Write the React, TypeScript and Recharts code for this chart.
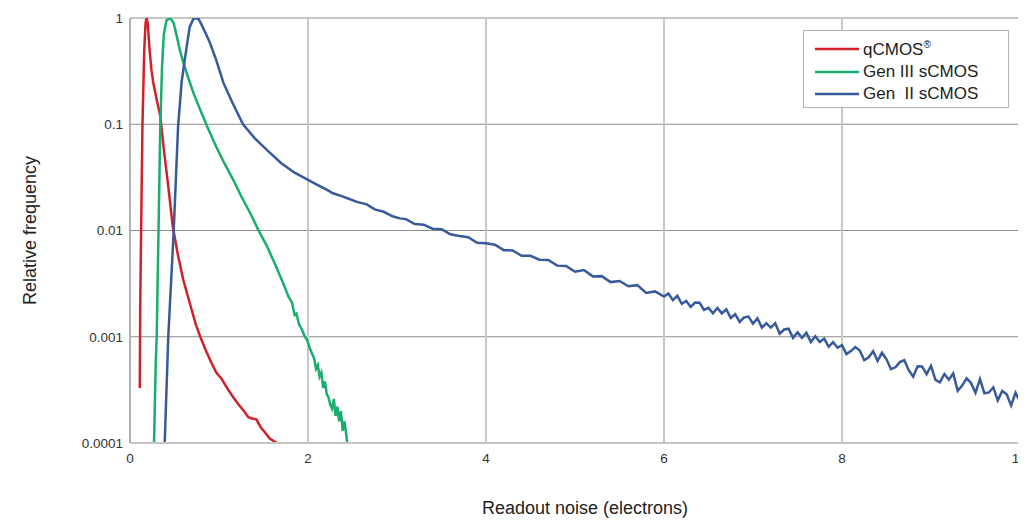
import React from "react";
import { LineChart, Line, XAxis, YAxis, CartesianGrid } from "recharts";

// [readout noise (e-), relative frequency]
const qcmos: [number, number][] = [
  [0.11, 0.00033], [0.115, 0.002], [0.125, 0.01], [0.14, 0.1], [0.16, 0.5],
  [0.175, 0.9], [0.187, 1.0], [0.2, 0.88], [0.22, 0.5], [0.24, 0.33],
  [0.26, 0.25], [0.3, 0.17], [0.34, 0.12], [0.38, 0.058], [0.43, 0.026],
  [0.48, 0.011], [0.54, 0.0058], [0.6, 0.0034], [0.67, 0.0021], [0.74, 0.0013],
  [0.79, 0.001], [0.85, 0.00075], [0.91, 0.00058], [0.97, 0.00046],
  [1.03, 0.0004], [1.09, 0.00033], [1.16, 0.00027], [1.22, 0.00023],
  [1.28, 0.0002], [1.33, 0.000175], [1.37, 0.00017], [1.42, 0.000167],
  [1.47, 0.00014], [1.52, 0.000125], [1.57, 0.00011], [1.65, 0.0001],
];

const gen3: [number, number][] = [
  [0.27, 0.0001], [0.29, 0.0006], [0.3, 0.001], [0.32, 0.0095], [0.34, 0.094],
  [0.36, 0.35], [0.38, 0.7], [0.41, 0.95], [0.45, 1.0], [0.49, 0.9],
  [0.53, 0.65], [0.56, 0.5], [0.6, 0.38], [0.65, 0.28], [0.72, 0.19],
  [0.79, 0.136], [0.88, 0.09], [0.97, 0.061], [1.06, 0.043], [1.16, 0.03],
  [1.25, 0.021], [1.35, 0.0146], [1.44, 0.0102], [1.54, 0.0071],
  [1.63, 0.0048], [1.72, 0.0032], [1.78, 0.0024], [1.82, 0.0021],
  [1.85, 0.0016], [1.87, 0.00165], [1.9, 0.0013], [1.93, 0.00118],
  [1.96, 0.00102], [1.99, 0.00093], [2.02, 0.00078], [2.05, 0.00068],
  [2.07, 0.00062], [2.09, 0.0005], [2.11, 0.00054], [2.13, 0.00042],
  [2.15, 0.00046], [2.17, 0.00033], [2.19, 0.00038], [2.21, 0.00029],
  [2.23, 0.00027], [2.25, 0.00023], [2.27, 0.00021], [2.29, 0.00026],
  [2.31, 0.00018], [2.33, 0.00022], [2.35, 0.00016], [2.37, 0.0002],
  [2.39, 0.00013], [2.41, 0.00016], [2.43, 0.00012], [2.44, 0.0001],
];

const gen2: [number, number][] = [
  [0.39, 0.0001], [0.43, 0.001], [0.49, 0.0095], [0.54, 0.094], [0.58, 0.25],
  [0.62, 0.43], [0.67, 0.82], [0.71, 0.97], [0.73, 1.0], [0.77, 0.98],
  [0.8, 0.88], [0.85, 0.72], [0.9, 0.58], [0.97, 0.4], [1.05, 0.245],
  [1.15, 0.16], [1.27, 0.1], [1.4, 0.074], [1.54, 0.057], [1.7, 0.043],
  [1.85, 0.035], [2.0, 0.03], [2.1, 0.027], [2.2, 0.0245], [2.28, 0.0224],
  [2.37, 0.0212], [2.45, 0.02], [2.55, 0.0186], [2.66, 0.0176],
  [2.75, 0.0158], [2.85, 0.015], [2.95, 0.0136], [3.03, 0.013],
  [3.1, 0.0128], [3.2, 0.0115], [3.3, 0.01135], [3.4, 0.0104], [3.5, 0.0103],
  [3.6, 0.0092], [3.7, 0.00889], [3.8, 0.00865], [3.9, 0.00767], [4.0, 0.0076],
  [4.1, 0.00736], [4.2, 0.00653], [4.3, 0.0065], [4.4, 0.00579], [4.5, 0.00578],
  [4.6, 0.00531], [4.7, 0.00528], [4.8, 0.00467], [4.9, 0.00463], [5.0, 0.00409],
  [5.1, 0.00425], [5.2, 0.0037], [5.3, 0.00372], [5.4, 0.00327], [5.5, 0.00335],
  [5.6, 0.00299], [5.7, 0.00306], [5.8, 0.00258], [5.9, 0.00267], [6.0, 0.00239],
  [6.05, 0.00255], [6.1, 0.00221], [6.15, 0.00243], [6.2, 0.00204],
  [6.25, 0.00217], [6.3, 0.00191], [6.35, 0.0021], [6.4, 0.00209],
  [6.45, 0.00179], [6.5, 0.00187], [6.55, 0.00166], [6.6, 0.00187],
  [6.65, 0.00166], [6.7, 0.00181], [6.75, 0.0015], [6.8, 0.00163],
  [6.85, 0.00138], [6.9, 0.00152], [6.95, 0.00155], [7.0, 0.00133],
  [7.05, 0.00149], [7.1, 0.00122], [7.15, 0.00134], [7.2, 0.00122],
  [7.25, 0.00134], [7.3, 0.00107], [7.35, 0.00117], [7.4, 0.00119],
  [7.45, 0.000975], [7.5, 0.0011], [7.55, 0.000977], [7.6, 0.00109],
  [7.65, 0.000891], [7.7, 0.00101], [7.75, 0.000893], [7.8, 0.000962],
  [7.85, 0.000805], [7.9, 0.000889], [7.95, 0.000789], [8.0, 0.000832],
  [8.05, 0.000687], [8.1, 0.000733], [8.15, 0.0008], [8.2, 0.000743],
  [8.25, 0.000601], [8.3, 0.00064], [8.35, 0.000731], [8.4, 0.000592],
  [8.45, 0.000708], [8.5, 0.000614], [8.55, 0.000495], [8.6, 0.000516],
  [8.65, 0.000577], [8.7, 0.000601], [8.75, 0.000485], [8.8, 0.000421],
  [8.85, 0.000527], [8.9, 0.000525], [8.95, 0.000445], [9.0, 0.000531],
  [9.05, 0.000392], [9.1, 0.000372], [9.15, 0.000446], [9.2, 0.000394],
  [9.25, 0.000451], [9.3, 0.00031], [9.35, 0.000347], [9.4, 0.000406],
  [9.45, 0.000367], [9.5, 0.000297], [9.55, 0.000399], [9.6, 0.000294],
  [9.65, 0.000299], [9.7, 0.000334], [9.75, 0.000252], [9.8, 0.000309],
  [9.85, 0.000287], [9.9, 0.000226], [9.95, 0.000297], [10.0, 0.000246],
];

const xTicks = [0, 2, 4, 6, 8, 10];
const yTicks = [0.0001, 0.001, 0.01, 0.1, 1];

const seriesNames = ["qCMOS", "Gen III sCMOS", "Gen  II sCMOS"];
const seriesColors = ["#d0212a", "#19ad6e", "#375a9c"];

const toRows = (pts: [number, number][]) => pts.map(([x, y]) => ({ x, y }));

const font = "'Liberation Sans', Arial, sans-serif";

function YTitle(props: any) {
  const { viewBox } = props;
  const cx = 22;
  const cy = viewBox.y + viewBox.height / 2;
  return (
    <text
      x={cx}
      y={cy}
      transform={`rotate(-90 ${cx} ${cy})`}
      textAnchor="middle"
      dominantBaseline="central"
      fontSize={18}
      fontFamily={font}
      fill="#222"
    >
      Relative frequency
    </text>
  );
}

function XTitle(props: any) {
  const { viewBox } = props;
  return (
    <text
      x={viewBox.x + viewBox.width / 2 + 10}
      y={506}
      textAnchor="middle"
      fontSize={18}
      fontFamily={font}
      fill="#222"
    >
      Readout noise (electrons)
    </text>
  );
}

function LegendBox() {
  return (
    <div
      style={{
        position: "absolute",
        left: 795,
        top: 22,
        border: "1px solid #b4b4b4",
        background: "#fff",
        width: 206,
        height: 78,
        boxSizing: "border-box",
        padding: "7px 0 0 11px",
        fontFamily: font,
        fontSize: 17,
        color: "#222",
      }}
    >
      {seriesNames.map((name, i) => (
        <div
          key={name}
          style={{ display: "flex", alignItems: "center", height: 22.5 }}
        >
          <svg width={44} height={4} style={{ marginRight: 4 }}>
            <line x1={0} y1={2} x2={44} y2={2} stroke={seriesColors[i]} strokeWidth={2.5} />
          </svg>
          <span style={{ whiteSpace: "pre" }}>
            {name}
            {i === 0 && <sup style={{ fontSize: 10 }}>®</sup>}
          </span>
        </div>
      ))}
    </div>
  );
}

export default function App() {
  const sets = [qcmos, gen3, gen2];
  return (
    <div style={{ position: "relative", width: 1018, height: 512 }}>
      <LineChart
        width={1018}
        height={512}
        margin={{ top: 10, right: 6, bottom: 0, left: 0 }}
      >
        <CartesianGrid vertical={false} stroke="#8c8c8c" strokeWidth={1} />
        <CartesianGrid horizontal={false} stroke="#c8c8c8" strokeWidth={2} />
        <XAxis
          type="number"
          dataKey="x"
          domain={[0, 10]}
          ticks={xTicks}
          allowDataOverflow
          height={77}
          tickLine={false}
          tickSize={0}
          tickMargin={10}
          stroke="#c4c4c4"
          strokeWidth={2}
          tick={{ fill: "#333", fontSize: 13.5, fontFamily: font }}
          label={<XTitle />}
        />
        <YAxis
          type="number"
          dataKey="y"
          scale="log"
          domain={[0.0001, 1]}
          ticks={yTicks}
          allowDataOverflow
          width={122}
          tickLine={false}
          tickSize={0}
          tickMargin={7}
          stroke="#9a9a9a"
          tick={{ fill: "#333", fontSize: 13.5, fontFamily: font }}
          tickFormatter={(v: number) => String(v)}
          label={<YTitle />}
        />
        {sets.map((pts, i) => (
          <Line
            key={seriesNames[i]}
            data={toRows(pts)}
            dataKey="y"
            name={seriesNames[i]}
            type="linear"
            stroke={seriesColors[i]}
            strokeWidth={2.5}
            dot={false}
            isAnimationActive={false}
          />
        ))}
      </LineChart>
      <LegendBox />
    </div>
  );
}
